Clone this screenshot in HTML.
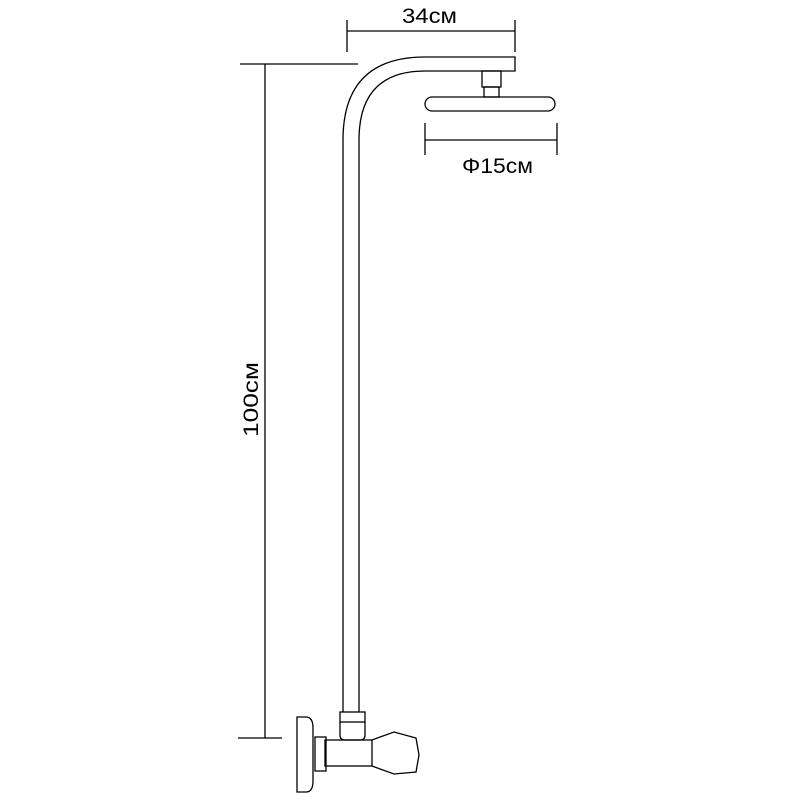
<!DOCTYPE html>
<html><head><style>body{margin:0;background:#fff}</style></head><body>
<svg width="800" height="800" viewBox="0 0 800 800" xmlns="http://www.w3.org/2000/svg" font-family="Liberation Sans, sans-serif">
<g stroke="#000" stroke-width="1.3" fill="none">
<line x1="347" y1="20" x2="347" y2="52"/>
<line x1="515" y1="20" x2="515" y2="52"/>
<line x1="347" y1="31" x2="515" y2="31"/>
<line x1="240" y1="64" x2="358" y2="64"/>
<line x1="265" y1="64" x2="265" y2="738"/>
<line x1="238" y1="738" x2="282" y2="738"/>
<path d="M343 712 L343 140 Q343 57 425 57 L515 57 L515 71 L425 71 Q359 71 359 140 L359 712"/>
<rect x="482" y="71" width="19" height="16"/>
<rect x="484" y="87" width="15" height="10"/>
<rect x="425" y="97" width="130" height="14" rx="7"/>
<line x1="425" y1="123" x2="425" y2="155"/>
<line x1="557" y1="123" x2="557" y2="155"/>
<line x1="425" y1="140" x2="557" y2="140"/>
<rect x="340" y="712" width="25" height="10"/>
<path d="M340 722 L340 735 Q340 740 345 740 L360 740 Q365 740 365 735 L365 722"/>
<rect x="325" y="740" width="47" height="26"/>
<rect x="315" y="737" width="11" height="34"/>
<path d="M297 717 L306 717 Q313 717 313 728 L313 781 Q313 792 306 792 L297 792 Z"/>
<path d="M372 740 L394 732 L416 738 L419 755 L416 772 L394 774 L372 766"/>
</g>
<text x="402" y="23" font-size="21" textLength="55" lengthAdjust="spacingAndGlyphs">34см</text>
<text x="462" y="173" font-size="21" textLength="71" lengthAdjust="spacingAndGlyphs">Φ15см</text>
<text transform="translate(258,437) rotate(-90)" font-size="21" textLength="75" lengthAdjust="spacingAndGlyphs">100см</text>
</svg>
</body></html>
